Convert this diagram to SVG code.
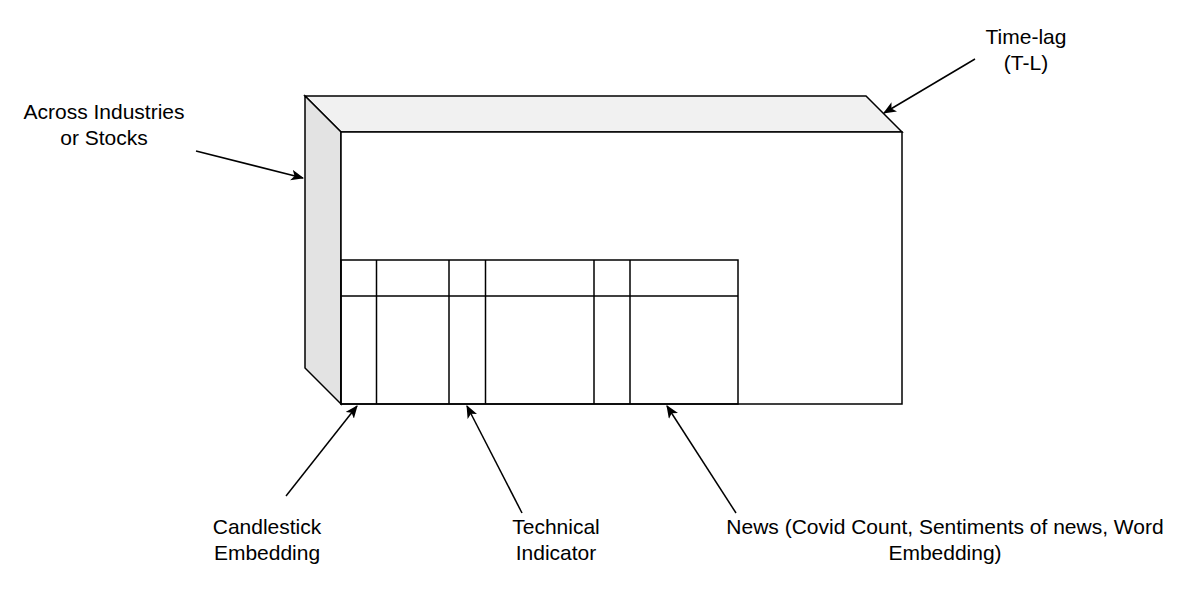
<svg xmlns="http://www.w3.org/2000/svg" width="1204" height="596" viewBox="0 0 1204 596">
  <style>
    .edge { fill: none; stroke: #000; stroke-width: 1.5; }
    .line { fill: none; stroke: #000; stroke-width: 1.5; }
    .lbl { font-family: "Liberation Sans", Arial, Helvetica, sans-serif; font-size: 21px; fill: #000; text-anchor: middle; }
  </style>
  <defs>
    <marker id="arrow" viewBox="0 0 12 10" refX="11" refY="5" markerWidth="13" markerHeight="11" markerUnits="userSpaceOnUse" orient="auto">
      <path d="M0,0 L12,5 L0,10 L3,5 Z" fill="#000"/>
    </marker>
  </defs>
  <rect width="1204" height="596" fill="#fff"/>

  <g id="cube">
    <polygon points="305,96 866,96 902,132 341,132" fill="#f1f1f1" stroke="#000" stroke-width="1.5" stroke-linejoin="miter"/>
    <polygon points="305,96 341,132 341,404 305,368" fill="#e3e3e3" stroke="#000" stroke-width="1.5"/>
    <rect x="341" y="132" width="561" height="272" fill="#fff" stroke="#000" stroke-width="1.5"/>
  </g>

  <g id="grid">
    <rect x="341" y="260" width="397" height="144" fill="none" stroke="#000" stroke-width="1.5"/>
    <line class="line" x1="341" y1="296" x2="738" y2="296"/>
    <line class="line" x1="376.5" y1="260" x2="376.5" y2="404"/>
    <line class="line" x1="449" y1="260" x2="449" y2="404"/>
    <line class="line" x1="485.5" y1="260" x2="485.5" y2="404"/>
    <line class="line" x1="594" y1="260" x2="594" y2="404"/>
    <line class="line" x1="630" y1="260" x2="630" y2="404"/>
  </g>

  <g id="connectors">
    <line class="edge" x1="975" y1="59" x2="884" y2="113" marker-end="url(#arrow)"/>
    <line class="edge" x1="196" y1="151" x2="303" y2="178" marker-end="url(#arrow)"/>
    <line class="edge" x1="286" y1="496" x2="357" y2="406" marker-end="url(#arrow)"/>
    <line class="edge" x1="522" y1="513" x2="467" y2="406" marker-end="url(#arrow)"/>
    <line class="edge" x1="736" y1="513" x2="667" y2="406" marker-end="url(#arrow)"/>
  </g>

  <g id="label-timelag">
    <text class="lbl" x="1026" y="44">Time-lag</text>
    <text class="lbl" x="1026" y="70">(T-L)</text>
  </g>
  <g id="label-across">
    <text class="lbl" x="104" y="119">Across Industries</text>
    <text class="lbl" x="104" y="145">or Stocks</text>
  </g>
  <g id="label-candlestick">
    <text class="lbl" x="267" y="534">Candlestick</text>
    <text class="lbl" x="267" y="560">Embedding</text>
  </g>
  <g id="label-technical">
    <text class="lbl" x="556" y="534">Technical</text>
    <text class="lbl" x="556" y="560">Indicator</text>
  </g>
  <g id="label-news">
    <text class="lbl" x="945" y="534">News (Covid Count, Sentiments of news, Word</text>
    <text class="lbl" x="945" y="560">Embedding)</text>
  </g>
</svg>
